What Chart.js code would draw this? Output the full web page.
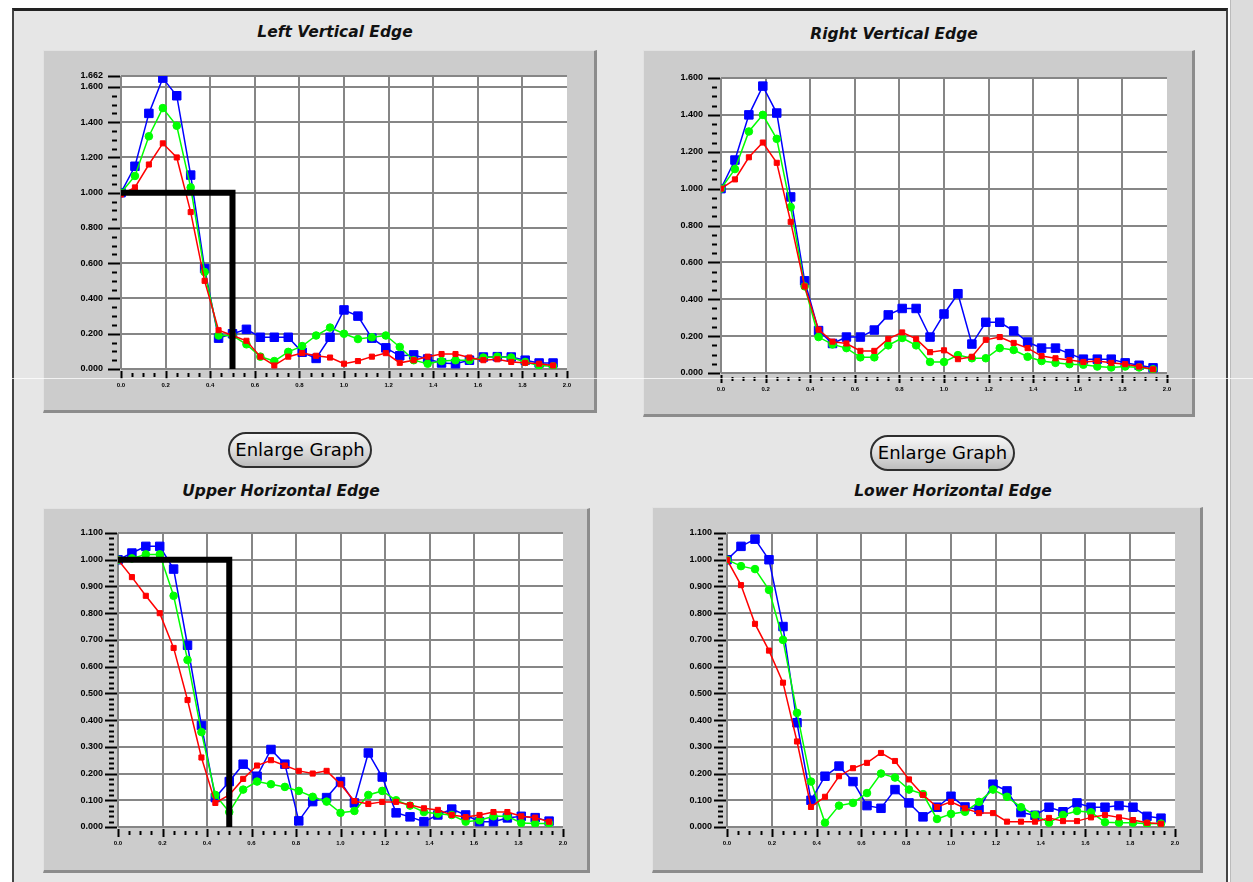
<!DOCTYPE html>
<html>
<head>
<meta charset="utf-8">
<script src="https://cdn.jsdelivr.net/npm/chart.js@4.4.0/dist/chart.umd.min.js"></script>
<style>
  body { margin: 0; width: 1253px; height: 882px; overflow: hidden; background: #ffffff; position: relative; }
  #frame { position: absolute; left: 12px; top: 8px; width: 1216px; height: 900px; box-sizing: border-box;
           border-left: 2px solid #444; border-top: 3px solid #222; border-right: 2px solid #444; background: #e6e6e6; }
  #rightStrip { position: absolute; left: 1230px; top: 0; width: 23px; height: 882px; background: #dcdcdc; border-left: 1px solid #bbb; }
  .title { position: absolute; font: italic bold 15.5px "DejaVu Sans", sans-serif; color: #111; transform: translateX(-50%); white-space: nowrap; }
  .panel { position: absolute; box-sizing: border-box; background: #cccccc;
           border-top: 1px solid #e2e2e2; border-left: 1px solid #e2e2e2;
           border-right: 3px solid #8c8c8c; border-bottom: 3px solid #8c8c8c; }
  canvas { position: absolute; }
  .btn { position: absolute; box-sizing: border-box; border: 2px solid #2e2e2e; border-radius: 18px;
         background: linear-gradient(#f6f6f6, #dadada 55%, #bdbdbd); font: 18px "DejaVu Sans", sans-serif;
         color: #000; text-align: center; }
  #seam { position: absolute; left: 0; top: 378px; width: 1253px; height: 1px; background: rgba(255,255,255,0.75); }
</style>
</head>
<body>
<div id="frame"></div>
<div id="rightStrip"></div>

<div class="title" style="left:335px;top:23px">Left Vertical Edge</div>
<div class="title" style="left:894px;top:25px">Right Vertical Edge</div>
<div class="title" style="left:281px;top:482px">Upper Horizontal Edge</div>
<div class="title" style="left:953px;top:482px">Lower Horizontal Edge</div>

<div class="panel" style="left:43px;top:50px;width:554px;height:363px"></div>
<div class="panel" style="left:643px;top:50px;width:552px;height:367px"></div>
<div class="panel" style="left:43px;top:508px;width:547px;height:365px"></div>
<div class="panel" style="left:652px;top:507px;width:551px;height:366px"></div>

<canvas id="cTL" style="left:43px;top:50px" width="554" height="363"></canvas>
<canvas id="cTR" style="left:643px;top:50px" width="552" height="367"></canvas>
<canvas id="cBL" style="left:43px;top:508px" width="547" height="365"></canvas>
<canvas id="cBR" style="left:652px;top:507px" width="551" height="366"></canvas>

<div class="btn" style="left:228px;top:432px;width:144px;height:36px;line-height:31px">Enlarge Graph</div>
<div class="btn" style="left:870px;top:435px;width:145px;height:36px;line-height:31px">Enlarge Graph</div>

<div id="seam"></div>

<script>
// spatial frequency of each sample
const freq = [0, 0.0625, 0.125, 0.1875, 0.25, 0.3125, 0.375, 0.4375, 0.5, 0.5625, 0.625, 0.6875,
              0.75, 0.8125, 0.875, 0.9375, 1.0, 1.0625, 1.125, 1.1875, 1.25, 1.3125, 1.375, 1.4375,
              1.5, 1.5625, 1.625, 1.6875, 1.75, 1.8125, 1.875, 1.9375];

// Left Vertical Edge
const lvBlue  = [1.00, 1.15, 1.45, 1.65, 1.55, 1.10, 0.57, 0.175, 0.20, 0.225, 0.18, 0.18, 0.18, 0.095, 0.06, 0.18,
                 0.335, 0.30, 0.175, 0.12, 0.075, 0.08, 0.057, 0.034, 0.03, 0.05, 0.068, 0.07, 0.068, 0.05, 0.034, 0.034];
const lvGreen = [1.00, 1.095, 1.32, 1.48, 1.38, 1.03, 0.55, 0.19, 0.19, 0.14, 0.07, 0.045, 0.097, 0.13, 0.19, 0.235,
                 0.20, 0.17, 0.18, 0.19, 0.125, 0.05, 0.03, 0.045, 0.05, 0.05, 0.065, 0.07, 0.065, 0.04, 0.02, 0.015];
const lvRed   = [0.99, 1.03, 1.16, 1.28, 1.20, 0.89, 0.50, 0.22, 0.19, 0.16, 0.07, 0.02, 0.07, 0.09, 0.075, 0.065,
                 0.03, 0.045, 0.07, 0.09, 0.035, 0.05, 0.07, 0.085, 0.085, 0.065, 0.05, 0.055, 0.04, 0.035, 0.03, 0.02];

// Right Vertical Edge
const rvBlue  = [1.00, 1.155, 1.40, 1.556, 1.41, 0.955, 0.50, 0.23, 0.16, 0.195, 0.195, 0.233, 0.315, 0.35, 0.35, 0.195,
                 0.32, 0.43, 0.157, 0.275, 0.275, 0.228, 0.168, 0.135, 0.135, 0.105, 0.075, 0.075, 0.075, 0.055, 0.042, 0.028];
const rvGreen = [1.00, 1.106, 1.31, 1.40, 1.27, 0.90, 0.47, 0.195, 0.155, 0.135, 0.085, 0.085, 0.15, 0.19, 0.15, 0.06,
                 0.06, 0.097, 0.08, 0.08, 0.135, 0.125, 0.088, 0.065, 0.055, 0.048, 0.045, 0.035, 0.03, 0.035, 0.03, 0.02];
const rvRed   = [1.00, 1.05, 1.17, 1.25, 1.14, 0.82, 0.47, 0.235, 0.17, 0.16, 0.12, 0.12, 0.185, 0.22, 0.185, 0.113,
                 0.123, 0.075, 0.088, 0.18, 0.195, 0.163, 0.135, 0.092, 0.08, 0.07, 0.06, 0.065, 0.055, 0.048, 0.035, 0.02];

// Upper Horizontal Edge
const uhBlue  = [1.00, 1.025, 1.05, 1.05, 0.965, 0.68, 0.38, 0.11, 0.17, 0.235, 0.19, 0.29, 0.235, 0.023, 0.095, 0.11,
                 0.17, 0.09, 0.277, 0.187, 0.053, 0.038, 0.02, 0.045, 0.067, 0.045, 0.02, 0.02, 0.034, 0.04, 0.035, 0.022];
const uhGreen = [1.00, 1.005, 1.02, 1.02, 0.865, 0.625, 0.355, 0.12, 0.056, 0.14, 0.17, 0.16, 0.15, 0.135, 0.113, 0.095,
                 0.053, 0.06, 0.12, 0.135, 0.10, 0.08, 0.056, 0.05, 0.045, 0.02, 0.025, 0.04, 0.04, 0.015, 0.013, 0.013];
const uhRed   = [1.00, 0.935, 0.865, 0.80, 0.67, 0.475, 0.26, 0.09, 0.12, 0.18, 0.23, 0.25, 0.23, 0.21, 0.20, 0.21,
                 0.16, 0.097, 0.086, 0.094, 0.094, 0.082, 0.07, 0.064, 0.045, 0.037, 0.045, 0.056, 0.056, 0.04, 0.035, 0.02];

// Lower Horizontal Edge
const lhBlue  = [1.00, 1.05, 1.077, 1.00, 0.75, 0.39, 0.10, 0.19, 0.228, 0.17, 0.08, 0.07, 0.14, 0.09, 0.038, 0.074,
                 0.115, 0.075, 0.066, 0.16, 0.135, 0.054, 0.044, 0.074, 0.057, 0.09, 0.074, 0.074, 0.08, 0.074, 0.04, 0.033];
const lhGreen = [1.00, 0.976, 0.965, 0.887, 0.70, 0.427, 0.17, 0.016, 0.08, 0.09, 0.127, 0.20, 0.185, 0.14, 0.123, 0.03,
                 0.049, 0.057, 0.094, 0.14, 0.113, 0.074, 0.045, 0.016, 0.045, 0.06, 0.055, 0.018, 0.016, 0.016, 0.012, 0.013];
const lhRed   = [1.00, 0.905, 0.76, 0.66, 0.54, 0.32, 0.075, 0.113, 0.19, 0.22, 0.24, 0.277, 0.247, 0.178, 0.12, 0.075,
                 0.094, 0.07, 0.052, 0.052, 0.02, 0.02, 0.02, 0.034, 0.022, 0.022, 0.036, 0.045, 0.036, 0.026, 0.016, 0.012];

// ideal edge response drawn in black
const idealX = [0, 0.5, 0.5];
const idealY = [1, 1, 0];

// tick values (labels are formatted from these)
const xTicks = [0, 0.2, 0.4, 0.6, 0.8, 1.0, 1.2, 1.4, 1.6, 1.8, 2.0];
const yTicksLV = [0, 0.2, 0.4, 0.6, 0.8, 1.0, 1.2, 1.4, 1.6, 1.662];
const yTicksRV = [0, 0.2, 0.4, 0.6, 0.8, 1.0, 1.2, 1.4, 1.6];
const yTicksH  = [0, 0.1, 0.2, 0.3, 0.4, 0.5, 0.6, 0.7, 0.8, 0.9, 1.0, 1.1];

const pts = (xs, ys) => xs.map((x, i) => ({ x: x, y: ys[i] }));

// white plot area plus the major/minor tick marks of the old-style axes
const axisDecor = {
  id: 'axisDecor',
  beforeDraw(chart) {
    const a = chart.chartArea, ctx = chart.ctx;
    ctx.save();
    ctx.fillStyle = '#ffffff';
    ctx.fillRect(a.left, a.top, a.right - a.left, a.bottom - a.top);
    ctx.restore();
  },
  afterDraw(chart, args, o) {
    const a = chart.chartArea, ctx = chart.ctx;
    const xs = chart.scales.x, ys = chart.scales.y;
    ctx.save();
    ctx.strokeStyle = '#000';
    ctx.lineWidth = 2;
    ctx.beginPath();
    // y axis
    const yMax = ys.max;
    const nY = Math.floor(yMax / o.yMinor + 1e-6);
    for (let k = 0; k <= nY; k++) {
      const v = k * o.yMinor;
      if (yMax - v < o.yMinor * 0.6 && k % o.yRatio !== 0) continue;
      const p = Math.round(ys.getPixelForValue(v)) + 0.5;
      const major = k % o.yRatio === 0;
      ctx.moveTo(a.left - (major ? 13 : 9), p);
      ctx.lineTo(a.left - (major ? 1 : 4), p);
    }
    if (o.yTop) {
      const p = Math.round(ys.getPixelForValue(yMax)) + 0.5;
      ctx.moveTo(a.left - 13, p); ctx.lineTo(a.left - 1, p);
    }
    // x axis
    for (let k = 0; k <= 40; k++) {
      const p = Math.round(xs.getPixelForValue(k * 0.05)) + 0.5;
      const major = k % 4 === 0;
      ctx.moveTo(p, a.bottom + (major ? 2 : 4));
      ctx.lineTo(p, a.bottom + (major ? 10 : 8));
    }
    ctx.stroke();
    ctx.restore();
  }
};

function buildChart(id, blue, green, red, yMax, yTicks, yMinor, yRatio, withIdeal, pad) {
  const datasets = [];
  if (withIdeal) {
    datasets.push({ data: pts(idealX, idealY), borderColor: '#000', borderWidth: 6, pointRadius: 0, order: 0, borderCapStyle: 'butt' });
  }
  datasets.push({ data: pts(freq, red), borderColor: '#ff0000', backgroundColor: '#ff0000', borderWidth: 1.5,
                  pointStyle: 'rect', pointRadius: 3.6, pointBorderWidth: 1, order: 1 });
  datasets.push({ data: pts(freq, green), borderColor: '#00ff00', backgroundColor: '#00ff00', borderWidth: 1.5,
                  pointStyle: 'circle', pointRadius: 3.8, pointBorderWidth: 1, order: 2 });
  datasets.push({ data: pts(freq, blue), borderColor: '#0000ff', backgroundColor: '#0000ff', borderWidth: 1.5,
                  pointStyle: 'rect', pointRadius: 6, pointBorderWidth: 1, order: 3 });

  new Chart(document.getElementById(id), {
    type: 'line',
    data: { datasets: datasets },
    options: {
      responsive: false,
      animation: false,
      devicePixelRatio: 1,
      layout: { padding: { top: pad.top, right: pad.right, left: 0, bottom: 0 } },
      plugins: { legend: { display: false }, tooltip: { enabled: false }, title: { display: false },
                 axisDecor: { yMinor: yMinor, yRatio: yRatio, yTop: yTicks[yTicks.length - 1] !== yTicks[yTicks.length - 2] + 0.2 && yMax % 0.1 > 0.01 } },
      elements: { line: { tension: 0 } },
      scales: {
        x: {
          type: 'linear', min: 0, max: 2.0,
          afterFit: s => { s.height = pad.bottom; },
          afterBuildTicks: s => { s.ticks = xTicks.map(v => ({ value: v })); },
          border: { display: false },
          grid: { color: c => (c.tick && c.tick.value >= 2) ? 'rgba(0,0,0,0)' : '#868686', lineWidth: 2, drawTicks: false },
          ticks: { padding: 13, color: '#000', font: { family: 'Liberation Sans', size: 6, weight: 'bold' },
                   maxRotation: 0, autoSkip: false, callback: v => Number(v).toFixed(1) }
        },
        y: {
          type: 'linear', min: 0, max: yMax,
          afterFit: s => { s.width = pad.left; },
          afterBuildTicks: s => { s.ticks = yTicks.map(v => ({ value: v })); },
          border: { display: false },
          grid: { color: '#868686', lineWidth: 2, drawTicks: false },
          ticks: { padding: pad.label, color: '#000', font: { family: 'Liberation Sans', size: 9, weight: 'bold' },
                   autoSkip: false, callback: v => Number(v).toFixed(3) }
        }
      }
    },
    plugins: [axisDecor]
  });
}

buildChart('cTL', lvBlue, lvGreen, lvRed, 1.662, yTicksLV, 0.05, 4, true,
           { left: 78, top: 26, right: 30, bottom: 44, label: 18 });
buildChart('cTR', rvBlue, rvGreen, rvRed, 1.6, yTicksRV, 0.05, 4, false,
           { left: 78, top: 28, right: 28, bottom: 44, label: 18 });
buildChart('cBL', uhBlue, uhGreen, uhRed, 1.1, yTicksH, 0.02, 5, true,
           { left: 75, top: 25, right: 27, bottom: 46, label: 15 });
buildChart('cBR', lhBlue, lhGreen, lhRed, 1.1, yTicksH, 0.02, 5, false,
           { left: 75, top: 26, right: 28, bottom: 46, label: 15 });
</script>
</body>
</html>
